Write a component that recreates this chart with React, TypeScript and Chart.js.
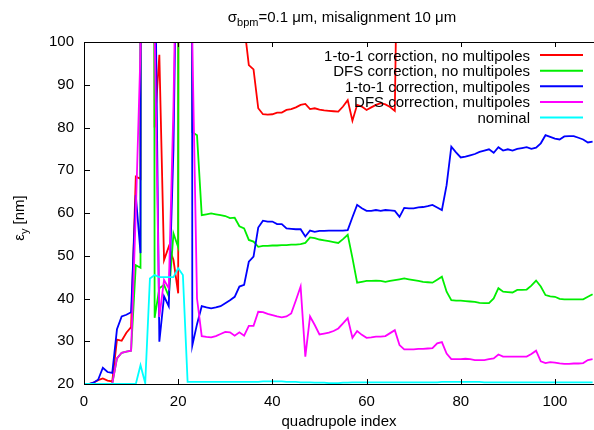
import { useEffect, useRef } from 'react';
import { Chart, registerables } from 'chart.js';

Chart.register(...registerables);

const FONT = '"Liberation Sans", Arial, Helvetica, sans-serif';

// quadrupole index of every data point (0..108)
const quadIndex = Array.from({ length: 109 }, (_, i) => i);

const xTicks = [0, 20, 40, 60, 80, 100];
const yTicks = [20, 30, 40, 50, 60, 70, 80, 90, 100];

const legendLabels = [
  '1-to-1 correction, no multipoles',
  'DFS correction, no multipoles',
  '1-to-1 correction, multipoles',
  'DFS correction, multipoles',
  'nominal',
];

// emittance eps_y [nm]; values above 100 leave the plot
const oneToOneNoMult = [
  20, 20, 20.3, 20.9, 21.3, 20.8, 20.6, 30.4, 30.1, 32,
  33.3, 68.5, 68, 2000, 2000, 80, 97, 49, 52.1, 49,
  41.2, 2000, 600, 400, 300, 260, 240, 230, 210, 190,
  170, 150, 135, 120, 104, 94.6, 93.6, 84.5, 83.1, 83,
  83.1, 83.5, 83.5, 84.1, 84.3, 84.7, 85.3, 85.5, 84.3, 84.5,
  84.2, 84, 83.9, 83.8, 83.7, 84.9, 86.4, 81.6, 85.3, 84.9,
  84.1, 84.7, 85.3, 85.7, 85.4, 84.8, 83.9, 160, 230, 260,
  280, 290, 300, 310, 300, 320, 330, 310, 340, 350,
  360, 340, 370, 380, 360, 390, 400, 380, 410, 420,
  400, 430, 440, 420, 450, 460, 440, 470, 480, 460,
  490, 500, 480, 510, 520, 500, 530, 540, 520,
];

const dfsNoMult = [
  20, 20, 20, 20, 20, 20, 20.1, 26, 27.3, 27.6,
  27.8, 47.8, 47.2, 2000, 1000, 35.5, 42.4, 43.2, 40.5, 55.2,
  52, 2000, 400, 78.9, 78.2, 59.5, 59.7, 59.9, 59.7, 59.5,
  59.3, 58.8, 58.9, 56.9, 56.4, 53.7, 53.3, 52.1, 52.3, 52.3,
  52.4, 52.4, 52.5, 52.5, 52.6, 52.6, 52.7, 53, 54.3, 54.1,
  53.8, 53.6, 53.4, 53.2, 53, 53.9, 54.9, 49.5, 43.7, 43.9,
  44.1, 44.1, 44.2, 44.1, 43.9, 44.1, 44.3, 44.5, 44.7, 44.5,
  44.3, 44.1, 43.9, 43.8, 43.7, 44.4, 45.1, 41.6, 39.6, 39.5,
  39.5, 39.4, 39.3, 39.2, 39, 38.9, 38.9, 40, 42.4, 41.6,
  41.5, 41.4, 42, 42, 42.1, 43, 44.2, 42.8, 40.8, 40.5,
  40.4, 39.9, 39.8, 39.8, 39.8, 39.8, 39.8, 40.4, 41,
];

const oneToOneMult = [
  20, 20, 20.3, 21, 23.8, 22.8, 22.6, 32.8, 35.8, 36.2,
  36.8, 64.2, 50.6, 2000, 400, 130, 29.9, 40.5, 38.2, 75,
  150, 400, 2000, 29, 34, 38.2, 37.9, 37.7, 37.9, 38.2,
  38.9, 39.6, 40.4, 42.8, 43.2, 48.6, 49.8, 56.6, 58.2, 58,
  58, 57.4, 57.4, 56.4, 56.3, 56.2, 56.2, 54.5, 55.9, 55.6,
  55.8, 55.8, 55.9, 55.9, 55.9, 55.9, 56, 59, 61.9, 61.1,
  60.5, 60.5, 60.7, 60.5, 60.7, 60.6, 60.5, 59.1, 61.2, 61.1,
  61.1, 61.3, 61.4, 61.6, 61.9, 61.3, 60.7, 66.5, 75.5, 74.2,
  73, 73.2, 73.5, 73.8, 74.3, 74.6, 74.9, 74.1, 75.4, 74.6,
  74.9, 74.6, 75, 75.2, 75.4, 75, 75.3, 76.3, 78.2, 77.8,
  77.4, 77.2, 77.9, 78, 78, 77.6, 77.2, 76.5, 76.7,
];

const dfsMult = [
  20, 20, 20, 20, 20, 20, 20.1, 26, 27.3, 27.6,
  27.8, 60, 98, 300, 300, 102, 35.7, 44.3, 42.4, 85,
  150, 300, 300, 100, 40, 31.2, 31, 30.9, 31.2, 31.7,
  32.2, 32.1, 31.3, 32.1, 31.3, 33.6, 33.6, 36.9, 36.8, 36.4,
  36.1, 35.8, 35.6, 35.8, 36.5, 39.6, 42.8, 26.4, 35.8, 33.8,
  31.6, 31.8, 32, 32.4, 33, 34.2, 35.4, 30.8, 32.4, 31.5,
  30.8, 30.9, 31.1, 31.1, 31.2, 31.9, 32.6, 29.1, 28.1, 28.1,
  28.1, 28.2, 28.2, 28.3, 28.4, 29.5, 29.8, 27.1, 25.8, 25.8,
  25.8, 25.9, 25.8, 25.6, 25.6, 25.6, 25.8, 26, 26.9, 26.4,
  26.4, 26.4, 26.4, 26.4, 26.4, 27, 27.8, 25.3, 24.9, 25.1,
  25, 24.8, 24.7, 24.7, 24.8, 24.8, 24.9, 25.6, 25.8,
];

const nominal = [
  20, 20, 20, 20, 20, 20, 20, 20, 20, 20,
  20, 20, 24.4, 20.2, 44.7, 45.5, 45, 45, 45, 45,
  47.1, 45.5, 20.5, 20.5, 20.5, 20.5, 20.5, 20.5, 20.5, 20.5,
  20.5, 20.5, 20.5, 20.5, 20.5, 20.5, 20.5, 20.5, 20.6, 20.6,
  20.6, 20.6, 20.6, 20.5, 20.5, 20.5, 20.4, 20.4, 20.4, 20.3,
  20.3, 20.3, 20.2, 20.2, 20.2, 20.3, 20.3, 20.4, 20.4, 20.4,
  20.4, 20.4, 20.4, 20.4, 20.4, 20.4, 20.4, 20.4, 20.4, 20.4,
  20.4, 20.4, 20.4, 20.4, 20.4, 20.4, 20.5, 20.5, 20.5, 20.5,
  20.5, 20.5, 20.5, 20.5, 20.5, 20.4, 20.4, 20.4, 20.4, 20.4,
  20.4, 20.4, 20.4, 20.4, 20.4, 20.4, 20.4, 20.4, 20.4, 20.4,
  20.4, 20.4, 20.4, 20.4, 20.4, 20.4, 20.4, 20.4, 20.4,
];

const seriesValues = [oneToOneNoMult, dfsNoMult, oneToOneMult, dfsMult, nominal];
const seriesColors = ['#ff0000', '#00ee00', '#0000ff', '#ff00ff', '#00ffff'];

// draws the gnuplot-style frame, inward ticks, key and the labels with subscripts
const gnuplotDecor = {
  id: 'gnuplotDecor',
  afterDraw(chart: any) {
    const { ctx, chartArea: a } = chart;
    const xs = chart.scales.x;
    const ys = chart.scales.y;
    ctx.save();

    // border
    ctx.strokeStyle = '#000';
    ctx.lineWidth = 1;
    ctx.beginPath();
    ctx.moveTo(a.right + 1, a.top + 0.5);
    ctx.lineTo(a.left + 0.5, a.top + 0.5);
    ctx.lineTo(a.left + 0.5, a.bottom + 0.5);
    ctx.lineTo(a.right + 1, a.bottom + 0.5);
    ctx.stroke();

    // ticks
    ctx.beginPath();
    yTicks.forEach((v) => {
      const py = Math.round(ys.getPixelForValue(v)) + 0.5;
      ctx.moveTo(a.left, py);
      ctx.lineTo(a.left + 6, py);
    });
    xTicks.forEach((v) => {
      const px = Math.round(xs.getPixelForValue(v)) + 0.5;
      ctx.moveTo(px, a.bottom);
      ctx.lineTo(px, a.bottom - 5);
      ctx.moveTo(px, a.top);
      ctx.lineTo(px, a.top + 5);
    });
    ctx.stroke();

    // key
    ctx.font = `15px ${FONT}`;
    ctx.textAlign = 'right';
    ctx.textBaseline = 'alphabetic';
    legendLabels.forEach((label, k) => {
      const cy = a.top + 13 + k * 15.65;
      ctx.fillStyle = '#000';
      ctx.fillText(label, a.right - 64, cy + 5.5);
      ctx.strokeStyle = seriesColors[k];
      ctx.lineWidth = 2;
      ctx.beginPath();
      ctx.moveTo(a.right - 54, cy);
      ctx.lineTo(a.right - 11, cy);
      ctx.stroke();
    });

    // text made of normal and subscript pieces
    const drawPieces = (pieces: [string, boolean][], cx: number, base: number) => {
      let total = 0;
      pieces.forEach(([t, sub]) => {
        ctx.font = `${sub ? 11 : 15}px ${FONT}`;
        total += ctx.measureText(t).width;
      });
      let px = cx - total / 2;
      ctx.textAlign = 'left';
      ctx.fillStyle = '#000';
      pieces.forEach(([t, sub]) => {
        ctx.font = `${sub ? 11 : 15}px ${FONT}`;
        ctx.fillText(t, px, base + (sub ? 4 : 0));
        px += ctx.measureText(t).width;
      });
    };

    // title
    drawPieces(
      [['σ', false], ['bpm', true], ['=0.1 μm, misalignment 10 μm', false]],
      (a.left + a.right) / 2 + 3,
      22,
    );

    // x axis label
    drawPieces([['quadrupole index', false]], (a.left + a.right) / 2, 426);

    // y axis label
    ctx.save();
    ctx.translate(24, (a.top + a.bottom) / 2 + 5);
    ctx.rotate(-Math.PI / 2);
    drawPieces([['ε', false], ['y', true], [' [nm]', false]], 0, 0);
    ctx.restore();

    ctx.restore();
  },
};

export default function App() {
  const canvasRef = useRef<HTMLCanvasElement>(null);
  const chartRef = useRef<Chart | null>(null);

  useEffect(() => {
    document.body.style.margin = '0';
    if (!canvasRef.current) return;
    if (chartRef.current) chartRef.current.destroy();

    const datasets = seriesValues.map((vals, k) => ({
      label: legendLabels[k],
      data: quadIndex.map((x, i) => ({ x, y: vals[i] })),
      borderColor: seriesColors[k],
      backgroundColor: seriesColors[k],
      borderWidth: 1.8,
      pointRadius: 0,
      tension: 0,
      fill: false,
      // gnuplot draws later curves on top
      order: seriesValues.length - k,
    }));

    chartRef.current = new Chart(canvasRef.current, {
      type: 'line',
      data: { datasets },
      options: {
        animation: false,
        responsive: false,
        layout: { padding: { top: 42, left: 0, right: 0, bottom: 0 } },
        plugins: {
          legend: { display: false },
          tooltip: { enabled: false },
        },
        scales: {
          x: {
            type: 'linear',
            min: 0,
            max: 108.3,
            afterBuildTicks: (s: any) => {
              s.ticks = xTicks.map((value) => ({ value }));
            },
            afterFit: (s: any) => {
              s.height = 46;
            },
            grid: { display: false, drawTicks: false },
            border: { display: false },
            ticks: {
              color: '#000',
              font: { family: FONT, size: 15 },
              padding: 9,
              maxRotation: 0,
              autoSkip: false,
            },
          },
          y: {
            type: 'linear',
            min: 20,
            max: 100,
            afterBuildTicks: (s: any) => {
              s.ticks = yTicks.map((value) => ({ value }));
            },
            afterFit: (s: any) => {
              s.width = 84;
            },
            grid: { display: false, drawTicks: false },
            border: { display: false },
            ticks: {
              color: '#000',
              font: { family: FONT, size: 15 },
              padding: 10,
            },
          },
        },
      },
      plugins: [gnuplotDecor],
    });

    return () => {
      if (chartRef.current) {
        chartRef.current.destroy();
        chartRef.current = null;
      }
    };
  }, []);

  return (
    <div style={{ width: 594, height: 430 }}>
      <canvas ref={canvasRef} width={594} height={430} />
    </div>
  );
}
